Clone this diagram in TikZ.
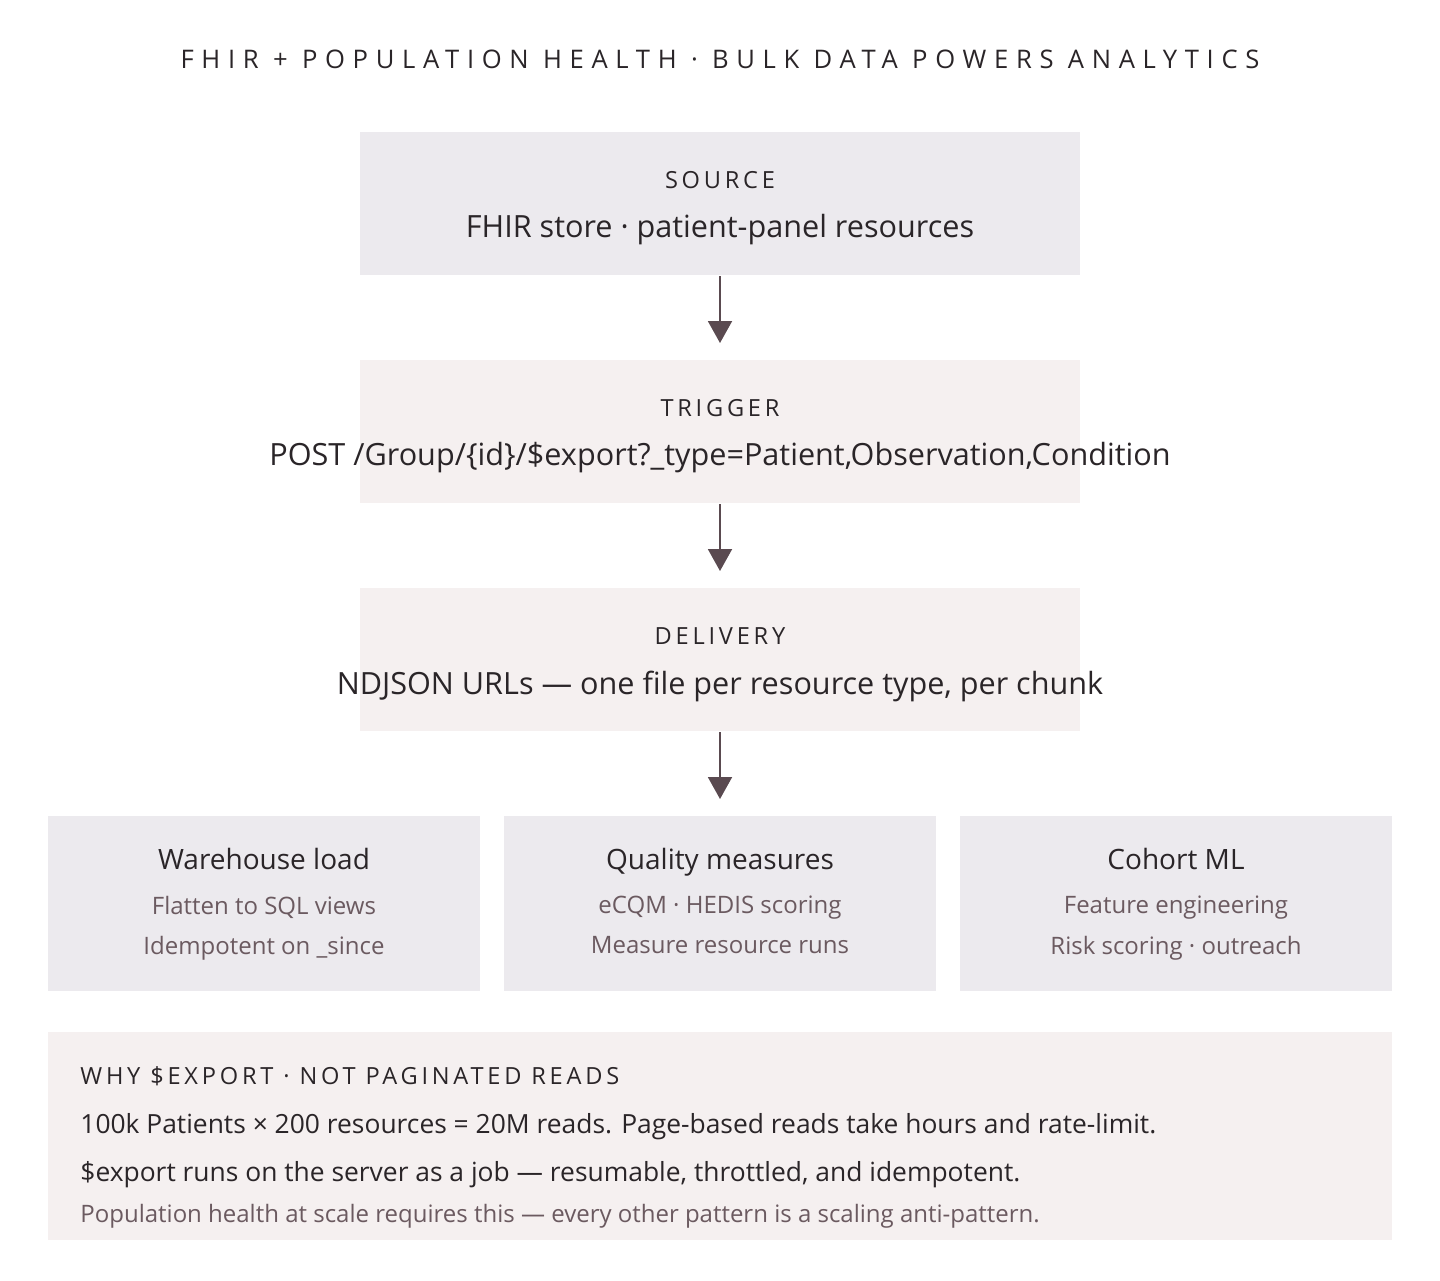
\documentclass[tikz,border=0pt]{standalone}
\usepackage{fontspec}
\setmainfont{Open Sans}
\newfontfamily\spaced[LetterSpace=30]{Open Sans}
\newfontfamily\spacedb[LetterSpace=16]{Open Sans}
\usetikzlibrary{arrows.meta}
\definecolor{boxg}{HTML}{ECEAEE}
\definecolor{boxp}{HTML}{F5F0F0}
\definecolor{ink}{HTML}{2A2528}
\definecolor{sub}{HTML}{6B5A60}
\definecolor{arr}{HTML}{5A4A50}
\begin{document}
\begin{tikzpicture}[x=0.5pt,y=-0.5pt,
  lab/.style={font=\spacedb\fontsize{11.8}{13}\selectfont,text=ink,inner sep=0},
  main/.style={font=\fontsize{15.3}{17}\selectfont,text=ink},
  head/.style={font=\fontsize{14}{16}\selectfont,text=ink},
  subt/.style={font=\fontsize{12}{14}\selectfont,text=sub},
  arrow/.style={draw=arr,line width=1pt,-{Triangle[length=11pt,width=12pt]}}]
\useasboundingbox (0,0) rectangle (1440,1280);
\fill[white] (0,0) rectangle (1440,1280);
\node[font=\spaced\fontsize{12.8}{15}\selectfont,text=ink] (title) at (720,59) {FHIR + POPULATION HEALTH · BULK DATA POWERS ANALYTICS};
% boxes
\fill[boxg] (360,132) rectangle (1080,275);
\coordinate (srcb) at (720,276);
\node[lab] (srcl) at (720,180) {SOURCE};
\node[main] (srct) at (720,230) {FHIR store · patient-panel resources};
\fill[boxp] (360,360) rectangle (1080,503);
\coordinate (trgt) at (720,343);
\coordinate (trgb) at (720,504);
\node[lab] (trgl) at (720,408) {TRIGGER};
\node[main] (trgx) at (720,458) {POST /Group/\{id\}/\$export?\_type=Patient,Observation,Condition};
\fill[boxp] (360,588) rectangle (1080,731);
\coordinate (delt) at (720,571);
\coordinate (delb) at (720,732);
\coordinate (outt) at (720,799);
\node[lab] (dell) at (720,636) {DELIVERY};
\node[main] (delx) at (720,686) {NDJSON URLs — one file per resource type, per chunk};
\draw[arrow] (srcb) -- (trgt);
\draw[arrow] (trgb) -- (delt);
\draw[arrow] (delb) -- (outt);
% outputs
\foreach \x/\a/\b/\c/\n in {48/Warehouse load/Flatten to SQL views/Idempotent on \_since/w,504/Quality measures/eCQM · HEDIS scoring/Measure resource runs/q,960/Cohort ML/Feature engineering/Risk scoring · outreach/c}{
  \fill[boxg] (\x,816) rectangle ++(432,175);
  \node[head] (\n1) at (\x+216,862) {\vphantom{Qy}\a};
  \node[subt] (\n2) at (\x+216,908) {\vphantom{Qy}\b};
  \node[subt] (\n3) at (\x+216,948) {\vphantom{Qy}\c};
}
\fill[boxp] (48,1032) rectangle (1392,1240);
\node[lab,anchor=west] (why) at (80,1076) {WHY \$EXPORT · NOT PAGINATED READS};
\node[font=\fontsize{13.2}{15}\selectfont,text=ink,anchor=west,inner sep=0] (l1) at (80,1127) {100k Patients × 200 resources = 20M reads. Page-based reads take hours and rate-limit.};
\node[font=\fontsize{13.2}{15}\selectfont,text=ink,anchor=west,inner sep=0] (l2) at (80,1175) {\$export runs on the server as a job — resumable, throttled, and idempotent.};
\node[font=\fontsize{12}{14}\selectfont,text=sub,anchor=west,inner sep=0] (l3) at (80,1216) {Population health at scale requires this — every other pattern is a scaling anti-pattern.};
\end{tikzpicture}
\end{document}
